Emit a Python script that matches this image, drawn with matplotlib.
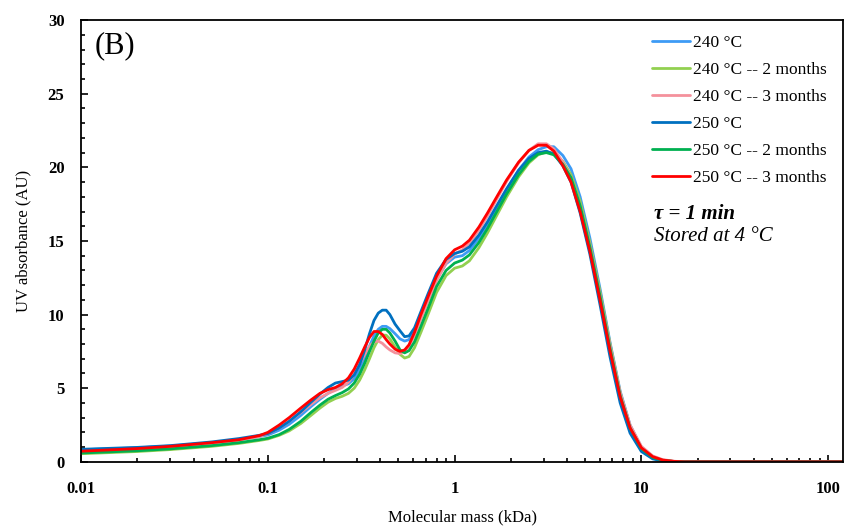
import numpy as np
import matplotlib
matplotlib.use('Agg')
import matplotlib.pyplot as plt
from matplotlib.ticker import FixedLocator, FixedFormatter, MultipleLocator, LogLocator, NullFormatter

plt.rcParams['font.family'] = ['Liberation Serif', 'DejaVu Serif']

# Molecular mass grid (kDa)
mass = [0.01, 0.02, 0.03, 0.05, 0.07, 0.09, 0.1, 0.115, 0.13, 0.15, 0.17, 0.19, 0.21, 0.23,
        0.25, 0.27, 0.29, 0.31, 0.33, 0.35, 0.37, 0.39, 0.41, 0.43, 0.45, 0.48, 0.51, 0.54,
        0.57, 0.61, 0.66, 0.72, 0.8, 0.9, 1.0, 1.1, 1.2, 1.35, 1.5, 1.7, 1.9, 2.2, 2.5, 2.8,
        3.1, 3.4, 3.8, 4.2, 4.7, 5.3, 6.0, 6.8, 7.7, 8.7, 10, 11.5, 13, 15, 17, 20, 40, 120]

# UV absorbance (AU) for each sample
uv_240 = [0.82, 0.95, 1.07, 1.3, 1.52, 1.72, 1.82, 2.15, 2.55, 3.15, 3.75, 4.25, 4.65, 4.95,
          5.15, 5.3, 5.65, 6.25, 7.0, 7.85, 8.55, 9.0, 9.2, 9.2, 9.05, 8.7, 8.35, 8.2,
          8.3, 8.85, 9.85, 11.0, 12.4, 13.45, 13.9, 14.0, 14.35, 15.2, 16.15, 17.4, 18.5, 19.8, 20.7, 21.2,
          21.4, 21.4, 20.8, 19.9, 18.0, 15.2, 11.8, 8.1, 4.8, 2.5, 1.0, 0.35, 0.1, 0.02, 0, 0, 0, 0]
uv_240_2m = [0.55, 0.7, 0.83, 1.05, 1.25, 1.45, 1.55, 1.8, 2.1, 2.6, 3.15, 3.65, 4.05, 4.3,
             4.45, 4.65, 5.0, 5.55, 6.25, 7.0, 7.75, 8.3, 8.6, 8.6, 8.35, 7.8, 7.3, 7.05,
             7.15, 7.75, 8.8, 10.0, 11.5, 12.65, 13.15, 13.3, 13.65, 14.55, 15.55, 16.85, 18.0, 19.35, 20.3, 20.85,
             21.05, 20.95, 20.4, 19.5, 17.7, 14.9, 11.6, 8.0, 4.7, 2.4, 0.95, 0.35, 0.1, 0.02, 0, 0, 0, 0]
uv_240_3m = [0.72, 0.88, 1.02, 1.27, 1.48, 1.72, 1.9, 2.3, 2.75, 3.35, 3.9, 4.35, 4.65, 4.85,
             5.05, 5.4, 5.95, 6.65, 7.3, 7.85, 8.15, 8.2, 8.05, 7.8, 7.6, 7.4, 7.35, 7.5,
             7.85, 8.6, 9.7, 10.9, 12.3, 13.5, 14.1, 14.4, 14.85, 15.75, 16.7, 17.95, 19.05, 20.3, 21.15, 21.6,
             21.6, 21.25, 20.35, 19.3, 17.4, 14.7, 11.4, 7.9, 4.7, 2.5, 1.05, 0.4, 0.15, 0.04, 0, 0, 0, 0]
uv_250 = [0.85, 0.98, 1.1, 1.35, 1.58, 1.8, 1.92, 2.3, 2.75, 3.4, 4.05, 4.6, 5.05, 5.35,
          5.45, 5.55, 5.9, 6.6, 7.6, 8.7, 9.6, 10.1, 10.3, 10.3, 10.0, 9.35, 8.9, 8.5,
          8.55, 9.1, 10.2, 11.4, 12.8, 13.75, 14.15, 14.3, 14.6, 15.4, 16.3, 17.5, 18.55, 19.8, 20.6, 21.0,
          21.1, 20.9, 20.1, 19.0, 16.9, 14.1, 10.7, 7.1, 4.0, 1.95, 0.7, 0.2, 0.05, 0, 0, 0, 0, 0]
uv_250_2m = [0.6, 0.75, 0.88, 1.1, 1.3, 1.5, 1.6, 1.85, 2.2, 2.75, 3.35, 3.85, 4.25, 4.5,
             4.7, 4.95, 5.35, 5.95, 6.7, 7.5, 8.2, 8.75, 9.0, 9.0, 8.75, 8.2, 7.6, 7.4,
             7.55, 8.15, 9.2, 10.4, 11.9, 13.0, 13.5, 13.7, 14.05, 14.9, 15.85, 17.1, 18.2, 19.5, 20.4, 20.9,
             21.0, 20.85, 20.2, 19.3, 17.4, 14.6, 11.3, 7.7, 4.5, 2.3, 0.9, 0.3, 0.1, 0.02, 0, 0, 0, 0]
uv_250_3m = [0.72, 0.9, 1.05, 1.3, 1.5, 1.78, 2.0, 2.5, 3.0, 3.65, 4.2, 4.65, 4.9, 5.05,
             5.3, 5.7, 6.3, 7.05, 7.8, 8.45, 8.85, 8.85, 8.65, 8.3, 8.0, 7.65, 7.5, 7.6,
             7.95, 8.8, 10.0, 11.2, 12.6, 13.8, 14.4, 14.65, 15.05, 15.95, 16.9, 18.1, 19.15, 20.35, 21.15, 21.5,
             21.5, 21.1, 20.1, 19.0, 17.0, 14.3, 11.0, 7.5, 4.4, 2.3, 0.95, 0.35, 0.12, 0.03, 0, 0, 0, 0]

labels = ['240 °C', '240 °C -- 2 months', '240 °C -- 3 months',
          '250 °C', '250 °C -- 2 months', '250 °C -- 3 months']
series = [uv_240, uv_240_2m, uv_240_3m, uv_250, uv_250_2m, uv_250_3m]
colors = ['#3D9BF5', '#92D050', '#F4919C', '#0070C0', '#00B050', '#FF0000']

xtick_vals = [0.01, 0.1, 1, 10, 100]
xtick_labels = ['0.01', '0.1', '1', '10', '100']

fig = plt.figure(figsize=(8.54, 5.29), dpi=100)
ax = fig.add_axes([0.095, 0.127, 0.892, 0.835])

for y, c, lab in zip(series, colors, labels):
    ax.plot(mass, y, color=c, lw=2.0, label=lab, solid_capstyle='round', solid_joinstyle='round')

ax.set_xscale('log')
ax.set_xlim(0.01, 120)
ax.set_ylim(0, 30)

ax.xaxis.set_major_locator(FixedLocator(xtick_vals))
ax.xaxis.set_major_formatter(FixedFormatter(xtick_labels))
ax.xaxis.set_minor_locator(LogLocator(base=10, subs=np.arange(2, 10)))
ax.xaxis.set_minor_formatter(NullFormatter())
ax.yaxis.set_major_locator(MultipleLocator(5))
ax.yaxis.set_minor_locator(MultipleLocator(1))

ax.tick_params(which='both', direction='in', width=1.2, labelsize=12)
ax.tick_params(which='major', length=5)
ax.tick_params(which='minor', length=3)
ax.tick_params(axis='y', pad=12)
ax.tick_params(axis='x', pad=14)
for lbl in ax.get_xticklabels() + ax.get_yticklabels():
    lbl.set_fontweight('bold')

for sp in ax.spines.values():
    sp.set_linewidth(1.3)

ax.set_xlabel('Molecular mass (kDa)', fontsize=12, labelpad=9)
ax.set_ylabel('UV absorbance (AU)', fontsize=12, labelpad=12)

ax.text(0.018, 0.975, '(B)', transform=ax.transAxes, fontsize=22, va='top', ha='left')

ax.legend(loc='upper left', bbox_to_anchor=(0.749, 0.966), frameon=False, fontsize=12.5,
          handlelength=2.2, handletextpad=0.2, labelspacing=0.62, borderpad=0, borderaxespad=0)

ax.text(0.752, 0.560, 'τ = 1 min', transform=ax.transAxes, fontsize=15,
        fontweight='bold', fontstyle='italic', va='center', ha='left')
ax.text(0.752, 0.511, 'Stored at 4 °C', transform=ax.transAxes, fontsize=15,
        fontstyle='italic', va='center', ha='left')

fig.savefig('out.png', dpi=100)
